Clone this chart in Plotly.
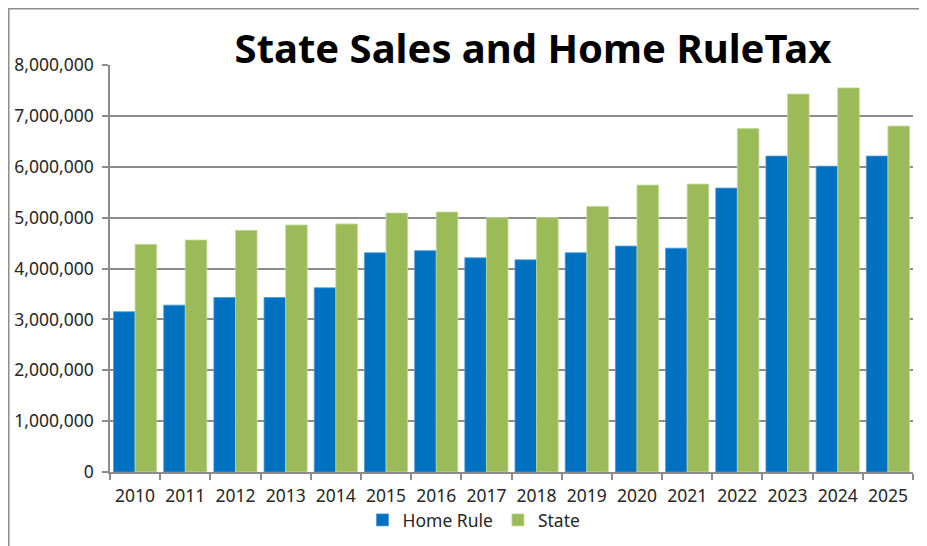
import plotly.graph_objects as go

years = ["2010", "2011", "2012", "2013", "2014", "2015", "2016", "2017",
         "2018", "2019", "2020", "2021", "2022", "2023", "2024", "2025"]
home_rule = [3150000, 3280000, 3430000, 3430000, 3620000, 4310000, 4350000, 4210000,
             4170000, 4310000, 4440000, 4400000, 5580000, 6210000, 6010000, 6210000]
state = [4475000, 4560000, 4750000, 4855000, 4875000, 5090000, 5110000, 5000000,
         5000000, 5220000, 5640000, 5660000, 6750000, 7430000, 7550000, 6800000]
y_ticks = [0, 1000000, 2000000, 3000000, 4000000, 5000000, 6000000, 7000000, 8000000]

FONT = "Noto Sans"
GRID = "#8c8c8c"

fig = go.Figure()
fig.add_trace(go.Bar(name="Home Rule", x=years, y=home_rule,
                     marker=dict(color="#0070C0", line=dict(width=0.8, color="#4a9bd6"))))
fig.add_trace(go.Bar(name="State", x=years, y=state,
                     marker=dict(color="#9BBB59", line=dict(width=0.8, color="#c4d89a"))))

# page body has an 8px margin: figure origin sits at screen (8, 8)
OFF = 8
W, H = 919, 538
# plot area on screen: x 110..913, y 65..472
SX0, SX1, SY0, SY1 = 110, 913, 65, 472
L, T = SX0 - OFF, SY0 - OFF
R, B = W - (SX1 - OFF), H - (SY1 - OFF)
pw, ph = SX1 - SX0, SY1 - SY0

def px_x(x):
    return (x - SX0) / pw

def px_y(y):
    return (SY1 - y) / ph

fig.update_layout(
    width=W, height=H,
    margin=dict(l=L, r=R, t=T, b=B, autoexpand=False),
    paper_bgcolor="white", plot_bgcolor="white",
    barmode="group", bargap=0.14, bargroupgap=0,
    font=dict(family=FONT, size=17, color="#262626"),
    showlegend=True,
    legend=dict(orientation="h", x=px_x(474), xanchor="center", y=px_y(520), yanchor="middle",
                font=dict(size=17.5, color="#262626"), itemwidth=30, traceorder="normal"),
    xaxis=dict(type="category", showgrid=False, showline=True, linecolor=GRID, linewidth=1.5,
               ticks="outside", tickson="boundaries", ticklen=6, tickcolor=GRID, tickwidth=1.5,
               ticklabelstandoff=7, tickfont=dict(size=17.5, color="#262626")),
    yaxis=dict(range=[0, 8000000], tickvals=y_ticks, tickformat=",d",
               showgrid=True, gridcolor=GRID, gridwidth=1.5,
               showline=True, linecolor=GRID, linewidth=1.5,
               ticks="outside", ticklen=6, tickcolor=GRID, tickwidth=1.5,
               ticklabelstandoff=5,
               zeroline=False, tickfont=dict(size=17.5, color="#262626")),
    shapes=[dict(type="rect", xref="paper", yref="paper",
                 x0=px_x(8.8), x1=px_x(935), y0=px_y(560), y1=px_y(8.8),
                 line=dict(color="#8c8c8c", width=1.5), fillcolor="rgba(0,0,0,0)", layer="above")],
    annotations=[dict(text="<b>State Sales and Home RuleTax</b>", xref="paper", yref="paper",
                      x=px_x(533), y=px_y(47), xanchor="center", yanchor="middle",
                      showarrow=False, bgcolor="white", width=708, height=46,
                      font=dict(family=FONT, size=40, color="black"))],
)

fig.write_html("out.html")
